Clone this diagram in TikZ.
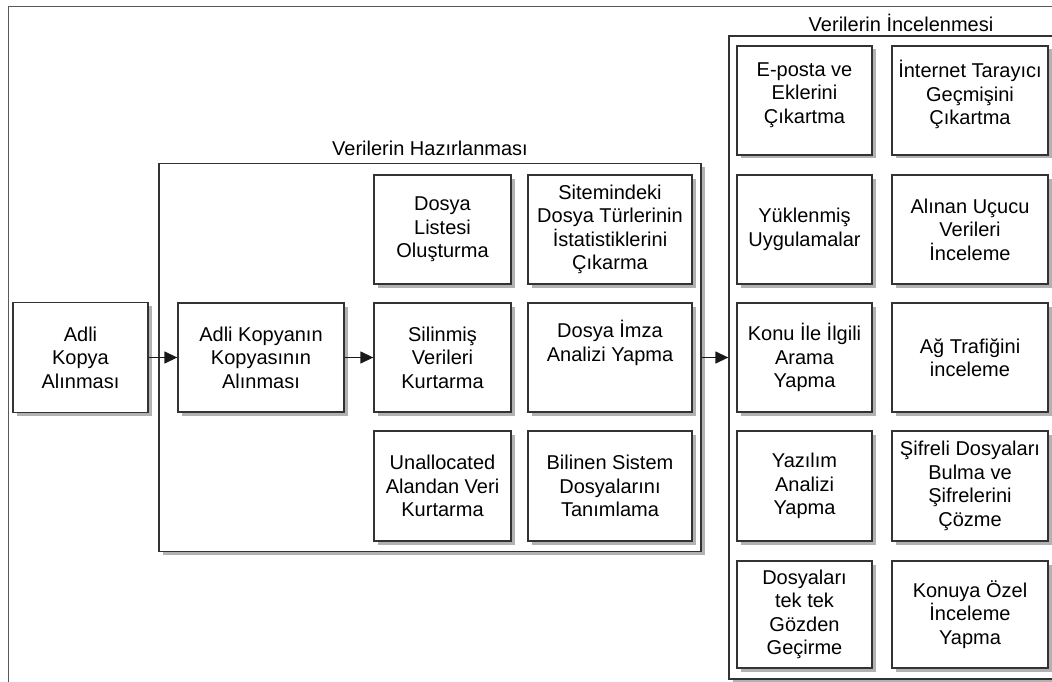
\documentclass[tikz,border=0pt]{standalone}
\usepackage{fontspec}
\setmainfont{Liberation Sans}
\usetikzlibrary{arrows.meta, shadows}

\begin{document}
\begin{tikzpicture}[x=1pt, y=-1pt, >={Triangle[length=13pt, width=12pt]},
  kutu/.style 2 args={draw=black!80, line width=1.3pt, fill=white, align=center,
    font=\fontsize{20}{23.5}\selectfont, inner sep=1pt,
    minimum width=#1, minimum height=#2,
    general shadow={fill=black!30, shadow xshift=3.5pt, shadow yshift=-3.5pt}},
  baslik/.style={anchor=base, font=\fontsize{20}{23.5}\selectfont},
  ok/.style={->, line width=1.3pt, black!90}]
  \useasboundingbox (0,0) rectangle (1052,682);
  \clip (0,0) rectangle (1052,682);
  \draw[black!65, line width=1pt] (8,7) rectangle (1070,700);

  \node[kutu={542pt}{388pt}] (hazir) at (430,357.5) {};
  \node[baslik] (hazirbaslik) at (430,155) {Verilerin Hazırlanması};
  \node[kutu={329pt}{643pt}] (incele) at (893.5,357.5) {};
  \node[baslik] (incelebaslik) at (901,32) {Verilerin İncelenmesi};

  \node[kutu={135pt}{110pt}] (adli) at (80.5,357.5) {Adli\\Kopya\\Alınması};
  \node[kutu={166pt}{109pt}] (kopya) at (261,357.5) {Adli Kopyanın\\Kopyasının\\Alınması};

  \node[kutu={137pt}{109pt}] (liste) at (442.5,229.5) {Dosya\\Listesi\\Oluşturma};
  \node[kutu={137pt}{109pt}] (silin) at (442.5,357.5) {Silinmiş\\Verileri\\Kurtarma};
  \node[kutu={137pt}{110pt}] (unalloc) at (442.5,486) {Unallocated\\Alandan Veri\\Kurtarma};
  \node[kutu={164pt}{109pt}] (sitem) at (610,229.5) {Sitemindeki\\Dosya Türlerinin\\İstatistiklerini\\Çıkarma};
  \node[kutu={164pt}{109pt}] (imza) at (610,357.5) {Dosya İmza\\Analizi Yapma\\[10pt]};
  \node[kutu={164pt}{110pt}] (sistem) at (610,486) {Bilinen Sistem\\Dosyalarını\\Tanımlama};

  \node[kutu={135pt}{109pt}] (eposta) at (804.5,100.5) {E-posta ve\\Eklerini\\Çıkartma\\[-8pt]};
  \node[kutu={135pt}{109pt}] (yuklu) at (804.5,229.5) {Yüklenmiş\\Uygulamalar};
  \node[kutu={135pt}{109pt}] (konu) at (804.5,357.5) {Konu İle İlgili\\Arama\\Yapma};
  \node[kutu={135pt}{110pt}] (yazilim) at (804.5,486) {Yazılım\\Analizi\\Yapma};
  \node[kutu={135pt}{107pt}] (dosyalar) at (804.5,614.5) {Dosyaları\\tek tek\\Gözden\\Geçirme};
  \node[kutu={156pt}{109pt}] (internet) at (970,100.5) {İnternet Tarayıcı\\Geçmişini\\Çıkartma\\[-8pt]};
  \node[kutu={156pt}{109pt}] (ucucu) at (970,229.5) {Alınan Uçucu\\Verileri\\İnceleme};
  \node[kutu={156pt}{109pt}] (trafik) at (970,357.5) {Ağ Trafiğini\\inceleme};
  \node[kutu={156pt}{110pt}] (sifre) at (970,486) {Şifreli Dosyaları\\Bulma ve\\Şifrelerini\\Çözme};
  \node[kutu={156pt}{107pt}] (ozel) at (970,614.5) {Konuya Özel\\İnceleme\\Yapma};

  \draw[ok] (adli) -- (kopya);
  \draw[ok] (kopya) -- (silin);
  \draw[ok] (hazir) -- (incele);
\end{tikzpicture}
\end{document}
